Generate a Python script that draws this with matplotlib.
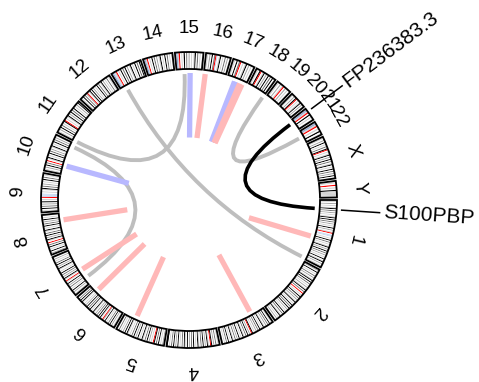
import numpy as np
import matplotlib
matplotlib.use('Agg')
import matplotlib.pyplot as plt
from matplotlib.patches import Wedge, PathPatch
from matplotlib.path import Path

plt.rcParams['font.family'] = ['Liberation Sans', 'DejaVu Sans']

# chromosomes (Mb) and rough band pattern per chromosome
chroms = ['1', '2', '3', '4', '5', '6', '7', '8', '9', '10', '11', '12',
          '13', '14', '15', '16', '17', '18', '19', '20', '21', '22', 'X', 'Y']
chrom_len = [249.25, 243.2, 198.0, 191.2, 180.9, 171.1, 159.1, 146.4, 141.2,
             135.5, 135.0, 133.9, 115.2, 107.3, 102.5, 90.4, 81.2, 78.1, 59.1,
             63.0, 48.1, 51.3, 155.3, 59.4]
# n=gneg l=gpos25 m=gpos50 d=gpos75 k=gpos100 a=acen v=gvar s=stalk
bands = [
    "nlnmnlnlkndnmnlnlknkndnmnlnknmnlanvvnlnkndnlnlknmnkndnmnlnknlknmnln",
    "nmnknlndnmnlknkndnlnmnlkndnanlnkndnmnlknlnkndnknmnlnkndnlknlnmnl",
    "nlnkndnmnlknlnkndnmnlnkanmnkndnlknlnknmndnlknlnkndnlnm",
    "nlndnmnkanlknmnkndnlknlnkndnmnknlkndnlnknmnkndnlnk",
    "nmnlnkndnkanlnmnkndnlknlnknmnkndnlnlknknmnlndnl",
    "nlnmnkndnlnknmanlknkndnmnlknlnkndnknmnlnlknkndnl",
    "nlnmnknlndnmnknlanlknmndnknlnlknmnkndnlnmnl",
    "nmnknlnkndnanlknmnkndnlknlnkndnmnknlnl",
    "nlnkndnmnknlnavvvnlnlkndnmnlnkndnln",
    "nlnmnkndnanlknlnkndnmnlknlnkndnmnl",
    "nlnmnkndnlnkanlnlknmnkndnknlnmnkn",
    "nlnkndnmanlknknmnlnkndnlknmnlndnln",
    "lsvlanlnkndnknmnlknlnkndnkn",
    "lslanlnkndnmnlknlnkndnlnl",
    "lslanlnkndnmnlnlkndnlnl",
    "nlnmnkndavnlknlndnmnl",
    "nlnkndanlnlknmnlnl",
    "nlnkanlknmnkndnknl",
    "nlnmnlanmnlnl",
    "nlnmnkanlnlknmnl",
    "lslanknlnl",
    "lslanlnknl",
    "nlnmnknlndnkanlnlknmnkndnlknlnkndnmnknl",
    "nlnanlnklllll",
]
stain_col = {'n': 'white', 'l': '#d3d3d3', 'm': '#a6a6a6', 'd': '#737373',
             'k': 'black', 'a': 'red', 'v': '#c6d9f0', 's': '#8fa8d8'}

# links between (chrom, Mb) pairs
link_a_chr = ['13', '18', '11', '10', '1']
link_a_pos = [24.3, 76.8, 2.2, 120.9, 35.0]
link_b_chr = ['1', '22', '15', '7', '21']
link_b_pos = [245.0, 24.4, 32.0, 27.9, 12.5]
link_col = ['#bebebe', '#bebebe', '#bebebe', '#bebebe', 'black']

# radial marks
mark_chr = ['1', '15', '16', '17', '17', '17', '17', '10', '8', '7', '6', '5', '3']
mark_pos = [151.8, 55.2, 6.4, 33.0, 40.0, 56.0, 66.0, 36.7, 117.6, 64.7, 137.0, 132.0, 54.4]
mark_col = ['r', 'b', 'r', 'b', 'b', 'r', 'r', 'b', 'r', 'r', 'r', 'r', 'r']

genes = ['S100PBP', 'FP236383.3']
gene_chr = ['1', '21']
gene_pos = [35.0, 12.5]

pad = 9.0
starts = np.concatenate([[0], np.cumsum(np.array(chrom_len) + pad)[:-1]])
total = starts[-1] + chrom_len[-1] + pad
idx = {c: i for i, c in enumerate(chroms)}


def angle(c, p):
    return -(starts[idx[c]] + p) / total * 360.0


def xy(a, r):
    t = np.deg2rad(a)
    return r * np.cos(t), r * np.sin(t)


fig = plt.figure(figsize=(4.79, 3.82), dpi=100)
ax = fig.add_axes([0, 0, 1, 1])
ax.set_xlim(-189, 290)
ax.set_ylim(-182, 200)
ax.axis('off')

r_out, r_in = 148, 131
for i, c in enumerate(chroms):
    s = bands[i]
    w = chrom_len[i] / len(s)
    for j, code in enumerate(s):
        a1 = angle(c, (j + 1) * w)
        a2 = angle(c, j * w)
        ax.add_patch(Wedge((0, 0), r_out, a1, a2, width=r_out - r_in,
                           facecolor=stain_col[code], edgecolor='none'))
    ax.add_patch(Wedge((0, 0), r_out, angle(c, chrom_len[i]), angle(c, 0),
                       width=r_out - r_in, fill=False, edgecolor='black', lw=1.3))
    am = angle(c, chrom_len[i] / 2)
    x, y = xy(am, 171)
    ax.text(x, y, c, fontsize=13.5, rotation=am - 90, ha='center', va='center',
            rotation_mode='anchor')

mark_rgb = {'r': '#ffb8b8', 'b': '#b8b8ff'}
for i in range(len(mark_chr)):
    a = angle(mark_chr[i], mark_pos[i])
    x0, y0 = xy(a, 127)
    x1, y1 = xy(a, 62.5)
    ax.plot([x0, x1], [y0, y1], color=mark_rgb[mark_col[i]], lw=3.8,
            solid_capstyle='butt')

for i in range(len(link_a_chr)):
    p0 = xy(angle(link_a_chr[i], link_a_pos[i]), 126)
    p2 = xy(angle(link_b_chr[i], link_b_pos[i]), 126)
    path = Path([p0, (0, 0), p2], [Path.MOVETO, Path.CURVE3, Path.CURVE3])
    lw = 2.8 if link_col[i] != 'black' else 2.6
    ax.add_patch(PathPatch(path, fill=False, edgecolor=link_col[i], lw=lw))

for i, g in enumerate(genes):
    a = angle(gene_chr[i], gene_pos[i])
    x0, y0 = xy(a, 153)
    x1, y1 = xy(a, 191)
    ax.plot([x0, x1], [y0, y1], color='black', lw=1.1)
    x, y = xy(a, 195)
    ax.text(x, y, g, fontsize=15, rotation=a, ha='left', va='center',
            rotation_mode='anchor')

fig.savefig('out.png', dpi=100)
